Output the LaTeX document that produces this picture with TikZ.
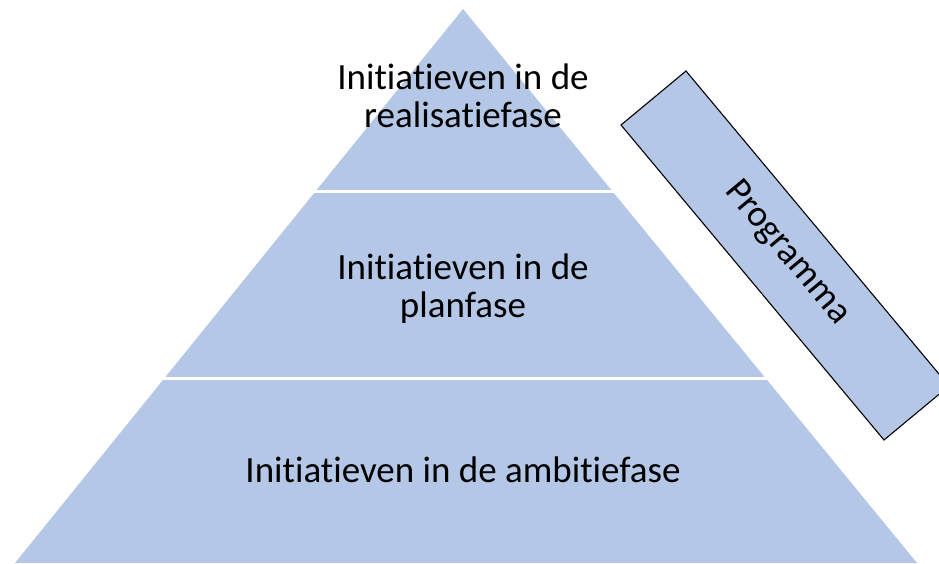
\documentclass[tikz,border=0pt]{standalone}
\usepackage{fontspec}
\setmainfont[Ligatures={NoCommon,NoRequired,NoContextual},RawFeature={-liga;-dlig;-clig}]{Carlito}
\definecolor{pyr}{HTML}{B4C7E7}
\begin{document}
\begin{tikzpicture}[x=1pt,y=1pt,
  lbl/.style={inner sep=0pt,anchor=base,font=\fontsize{37}{39}\selectfont,text=black},
  sep/.style={draw=white,line width=3pt},
  band/.style={fill=pyr,draw=black,line width=1.1pt}]
\useasboundingbox (0,0) rectangle (939,563);
\clip (0,0) rectangle (939,563);
% pyramid
\coordinate (apex) at (463,554);
\coordinate (bl) at (15,0);
\coordinate (br) at (917,0);
\fill[pyr] (bl) -- (apex) -- (br) -- cycle;
\coordinate (s1l) at (312,371);
\coordinate (s1r) at (616,371);
\coordinate (s2l) at (160,184.5);
\coordinate (s2r) at (770,184.5);
\draw[sep] (s1l) -- (s1r);
\draw[sep] (s2l) -- (s2r);
% labels
\node[lbl] (t1a) at (463,473.7) {Initiatieven in de};
\node[lbl] (t1b) at (463,435) {realisatiefase};
\node[lbl] (t2a) at (463,283.7) {Initiatieven in de};
\node[lbl] (t2b) at (463,246) {planfase};
\node[lbl] (t3) at (463,80.3) {Initiatieven in de ambitiefase};
% programma band
\coordinate (p1) at (621,438);
\coordinate (p2) at (686,492);
\coordinate (p3) at (949,177);
\coordinate (p4) at (884,123);
\draw[band] (p1) -- (p2) -- (p3) -- (p4) -- cycle;
\node[inner sep=0pt,font=\fontsize{37}{39}\selectfont,rotate=-50] (prog) at (787,310) {Programma};
\end{tikzpicture}
\end{document}
